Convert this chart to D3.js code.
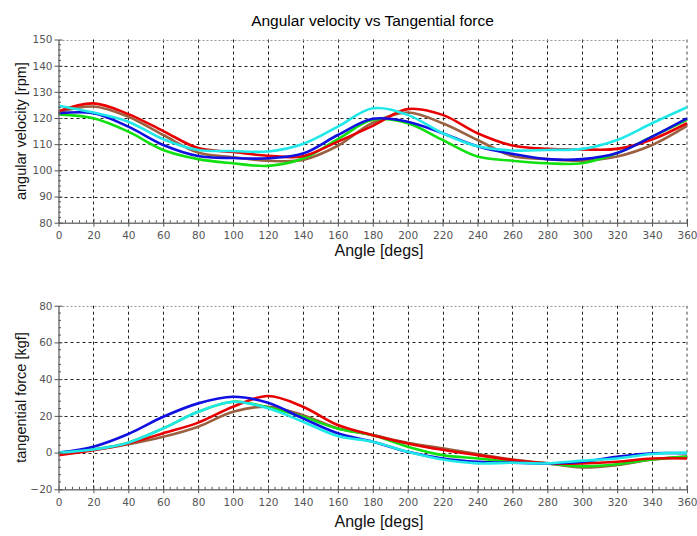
<!DOCTYPE html>
<html>
<head>
<meta charset="utf-8">
<script src="https://cdn.jsdelivr.net/npm/d3@7"></script>
<style>
  html, body { margin: 0; padding: 0; background: #ffffff; }
  svg { display: block; font-family: "Liberation Sans", Arial, sans-serif; }
</style>
</head>
<body>
<svg id="chart" width="697" height="536"></svg>
<script>
// ---- data ----
const angles = [0, 20, 40, 60, 80, 100, 120, 140, 160, 180, 200, 220, 240, 260, 280, 300, 320, 340, 360];
const xTicks = [0, 20, 40, 60, 80, 100, 120, 140, 160, 180, 200, 220, 240, 260, 280, 300, 320, 340, 360];

const velTicks = [80, 90, 100, 110, 120, 130, 140, 150];
const velRed   = [122.6, 125.6, 121.5, 115.0, 108.5, 107.0, 105.6, 105.4, 111.0, 117.0, 123.4, 121.2, 114.2, 109.5, 108.2, 108.0, 108.2, 111.8, 118.0];
const velBrown = [122.2, 124.4, 120.5, 113.5, 106.8, 105.0, 103.7, 104.0, 109.4, 118.2, 122.1, 118.0, 111.6, 105.5, 104.3, 103.7, 105.3, 109.7, 117.0];
const velGreen = [121.4, 119.9, 114.8, 107.8, 104.3, 102.7, 101.7, 104.5, 111.9, 119.3, 118.0, 111.6, 105.3, 103.7, 102.7, 102.7, 106.6, 112.9, 119.3];
const velBlue  = [121.8, 121.8, 116.7, 109.7, 105.5, 104.7, 104.6, 106.4, 113.5, 119.7, 118.6, 114.2, 109.2, 106.3, 104.3, 104.3, 106.6, 112.9, 119.9];
const velCyan  = [124.7, 122.1, 118.6, 111.9, 107.8, 107.4, 107.2, 110.1, 116.7, 123.7, 121.2, 114.2, 109.2, 107.6, 107.8, 108.2, 111.6, 118.0, 124.1];

const forceTicks = [-20, 0, 20, 40, 60, 80];
const forRed   = [-1.4, 1.3, 5.0, 10.5, 16.3, 25.0, 30.8, 25.0, 15.0, 9.5, 5.0, 1.5, -1.4, -4.1, -5.9, -5.9, -5.0, -3.2, -3.2];
const forBrown = [-0.5, 1.5, 4.6, 8.6, 14.1, 22.2, 25.0, 20.4, 13.2, 9.5, 5.4, 2.3, -0.8, -3.8, -5.9, -8.1, -6.8, -3.8, -2.2];
const forGreen = [0.0, 1.7, 5.4, 13.2, 22.2, 27.7, 24.6, 19.5, 13.0, 9.5, 3.2, -1.4, -3.2, -5.0, -5.9, -7.5, -6.4, -3.8, -2.2];
const forBlue  = [0.0, 3.2, 10.1, 19.5, 26.8, 30.4, 27.1, 18.6, 10.5, 5.9, 0.4, -3.2, -5.0, -5.5, -5.9, -5.0, -2.3, -0.4, -0.4];
const forCyan  = [0.0, 1.7, 5.4, 13.2, 22.2, 27.7, 24.1, 16.8, 9.0, 5.9, 0.4, -3.8, -5.9, -5.5, -5.9, -4.4, -3.2, -0.8, 0.0];

const seriesColors = { brown: "#9a6040", green: "#10e010", red: "#e80000", blue: "#1010e0", cyan: "#20e8e8" };

const titleText = "Angular velocity vs Tangential force";
const xLabelText = "Angle [degs]";
const velLabelText = "angular velocity [rpm]";
const forceLabelText = "tangential force [kgf]";

// ---- drawing ----
const svg = d3.select("#chart");
const left = 58.5, right = 687;

svg.append("text").attr("x", 372.5).attr("y", 25.5).attr("text-anchor", "middle")
  .attr("font-size", 15.5).attr("fill", "#000").text(titleText);

function panel(top, bottom, domain, yTicks, minorStep, seriesList, yLabel, xLabelOffset) {
  const x = d3.scaleLinear().domain([0, 360]).range([left, right]);
  const y = d3.scaleLinear().domain(domain).range([bottom, top]);
  const g = svg.append("g");

  // grid
  const grid = g.append("g").attr("stroke", "#222").attr("stroke-width", 1).attr("stroke-dasharray", "3,3");
  xTicks.slice(1, -1).forEach(t => grid.append("line")
    .attr("x1", Math.round(x(t)) + 0.5).attr("x2", Math.round(x(t)) + 0.5).attr("y1", top).attr("y2", bottom));
  yTicks.slice(1, -1).forEach(t => grid.append("line")
    .attr("x1", left).attr("x2", right).attr("y1", Math.round(y(t)) + 0.5).attr("y2", Math.round(y(t)) + 0.5));
  // right border dashed, top border dotted
  grid.append("line").attr("x1", right).attr("x2", right).attr("y1", top).attr("y2", bottom).attr("stroke", "#444");
  g.append("line").attr("x1", left).attr("x2", right).attr("y1", Math.round(top) + 0.5).attr("y2", Math.round(top) + 0.5)
    .attr("stroke", "#999").attr("stroke-dasharray", "2,2");

  // series
  const line = d3.line().x((d, i) => x(angles[i])).y(d => y(d)).curve(d3.curveCatmullRom.alpha(0.5));
  seriesList.forEach(s => g.append("path").attr("d", line(s.values)).attr("fill", "none")
    .attr("stroke", seriesColors[s.color]).attr("stroke-width", 2.6).attr("stroke-linejoin", "round"));

  // x axis
  const xAxis = d3.axisBottom(x).tickValues(xTicks).tickSize(4).tickSizeOuter(0).tickPadding(5)
    .tickFormat(d3.format("d"));
  const xa = g.append("g").attr("transform", `translate(0,${bottom})`).call(xAxis);
  xa.select(".domain").attr("stroke", "#777").attr("stroke-width", 1.5);
  xa.selectAll(".tick line").attr("stroke", "#555").attr("y1", -4);
  xa.selectAll(".tick text").attr("fill", "#555")
    .attr("font-family", "'DejaVu Sans', sans-serif").attr("font-size", 10.5);
  const xMinor = d3.range(0, 361, 4).filter(v => v % 20 !== 0);
  g.append("g").selectAll("line").data(xMinor).join("line")
    .attr("x1", d => x(d)).attr("x2", d => x(d)).attr("y1", bottom).attr("y2", bottom - 2.5)
    .attr("stroke", "#555");

  // y axis
  const yAxis = d3.axisLeft(y).tickValues(yTicks).tickSize(4).tickSizeOuter(0).tickPadding(2)
    .tickFormat(d3.format("d"));
  const ya = g.append("g").attr("transform", `translate(${left},0)`).call(yAxis);
  ya.select(".domain").attr("stroke", "#777").attr("stroke-width", 1.5);
  ya.selectAll(".tick line").attr("stroke", "#555").attr("x1", 4);
  ya.selectAll(".tick text").attr("fill", "#555")
    .attr("font-family", "'DejaVu Sans', sans-serif").attr("font-size", 10.5);
  const yMinor = d3.range(domain[0], domain[1] + 0.001, minorStep).filter(v => !yTicks.includes(v));
  g.append("g").selectAll("line").data(yMinor).join("line")
    .attr("x1", left).attr("x2", left + 2.5).attr("y1", d => y(d)).attr("y2", d => y(d))
    .attr("stroke", "#555");

  // labels
  g.append("text").attr("x", 379).attr("y", bottom + xLabelOffset).attr("text-anchor", "middle")
    .attr("font-size", 16).attr("fill", "#111").text(xLabelText);
  g.append("text").attr("transform", `translate(26,${(top + bottom) / 2}) rotate(-90)`)
    .attr("text-anchor", "middle").attr("font-size", 14.5).attr("fill", "#111").text(yLabel);
}

panel(39.5, 222.7, [80, 150], velTicks, 2, [
  { color: "brown", values: velBrown },
  { color: "green", values: velGreen },
  { color: "red", values: velRed },
  { color: "blue", values: velBlue },
  { color: "cyan", values: velCyan }
], velLabelText, 33);

panel(305.7, 489.3, [-20, 80], forceTicks, 4, [
  { color: "brown", values: forBrown },
  { color: "green", values: forGreen },
  { color: "red", values: forRed },
  { color: "blue", values: forBlue },
  { color: "cyan", values: forCyan }
], forceLabelText, 38);
</script>
</body>
</html>
